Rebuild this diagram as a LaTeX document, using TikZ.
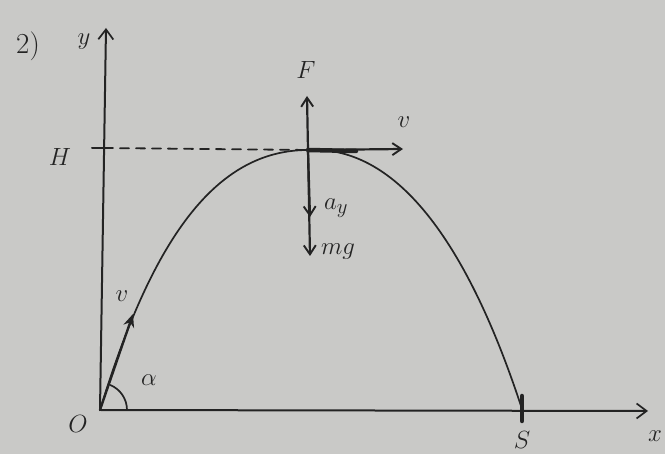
\documentclass[tikz,border=0pt]{standalone}
\usetikzlibrary{arrows.meta}
\definecolor{paper}{RGB}{201,201,199}
\definecolor{ink}{RGB}{35,35,35}
\begin{document}
\begin{tikzpicture}[x=1pt,y=-1pt,
  ink/.style={draw=ink,line cap=round},
  axis/.style={ink,line width=2pt,-{Straight Barb[length=10pt,width=15pt,line width=1.7pt]}},
  force/.style={ink,line width=2.2pt,-{Straight Barb[length=9pt,width=12pt,line width=1.9pt]}},
  lab/.style={text=ink,inner sep=0pt,font=\fontsize{29}{32}\selectfont}]
\fill[paper] (0,0) rectangle (665,454);
\useasboundingbox (0,0) rectangle (665,454);
% key points
\coordinate (O) at (100,410);
\coordinate (Ytop) at (106,28);
\coordinate (Xend) at (648,411);
\coordinate (P) at (308,150);
\coordinate (Htick) at (92,148);
\coordinate (Hax) at (104,148);
\coordinate (Ftip) at (307,96);
\coordinate (Vtip) at (403,149);
\coordinate (Vthick) at (356,151);
\coordinate (Atip) at (310,217);
\coordinate (Mtip) at (310,256);
\coordinate (V0tip) at (133,314);
\coordinate (S) at (522,409);
\coordinate (Stop) at (522,396);
\coordinate (Sbot) at (522,421);
% axes
\draw[axis] (O) -- (Ytop);
\draw[axis] (O) -- (Xend);
% H tick and dashed line
\draw[ink,line width=2pt] (Htick) -- (Hax);
\draw[ink,line width=1.8pt,dash pattern=on 9pt off 7pt] (Hax) -- (P);
% trajectory
\draw[ink,line width=1.7pt] (O) .. controls (152,240) and (215,150) .. (P)
  .. controls (400,145) and (470,250) .. (S);
% S tick
\draw[ink,line width=4.5pt] (Stop) -- (Sbot);
% initial velocity
\draw[ink,line width=2.3pt,-{Stealth[length=13pt,width=11pt]}] (O) -- (V0tip);
\draw[ink,line width=1.7pt] ([shift={(0:27)}]O) arc[start angle=0,end angle=-68,radius=27];
% forces at the top
\draw[ink,line width=4.5pt] (P) -- (Vthick);
\draw[force] (P) -- (Vtip);
\draw[force] (P) -- (Ftip);
\draw[force] (P) -- (Atip);
\draw[force] (P) -- (Mtip);
% labels
\node[lab] (n2) at (28,46) {2)};
\node[lab] (ny) at (84,42) {$y$};
\node[lab] (nH) at (60,157) {$H$};
\node[lab] (nO) at (78,424) {$O$};
\node[lab] (nS) at (522,440) {$S$};
\node[lab] (nx) at (655,436) {$x$};
\node[lab] (nv0) at (122,296) {$v$};
\node[lab] (nal) at (149,380) {$\alpha$};
\node[lab] (nF) at (306,70) {$F$};
\node[lab] (nv) at (404,122) {$v$};
\node[lab,anchor=west] (nay) at (324,208) {$a_y$};
\node[lab,anchor=west] (nmg) at (321,252) {$mg$};
\end{tikzpicture}
\end{document}
